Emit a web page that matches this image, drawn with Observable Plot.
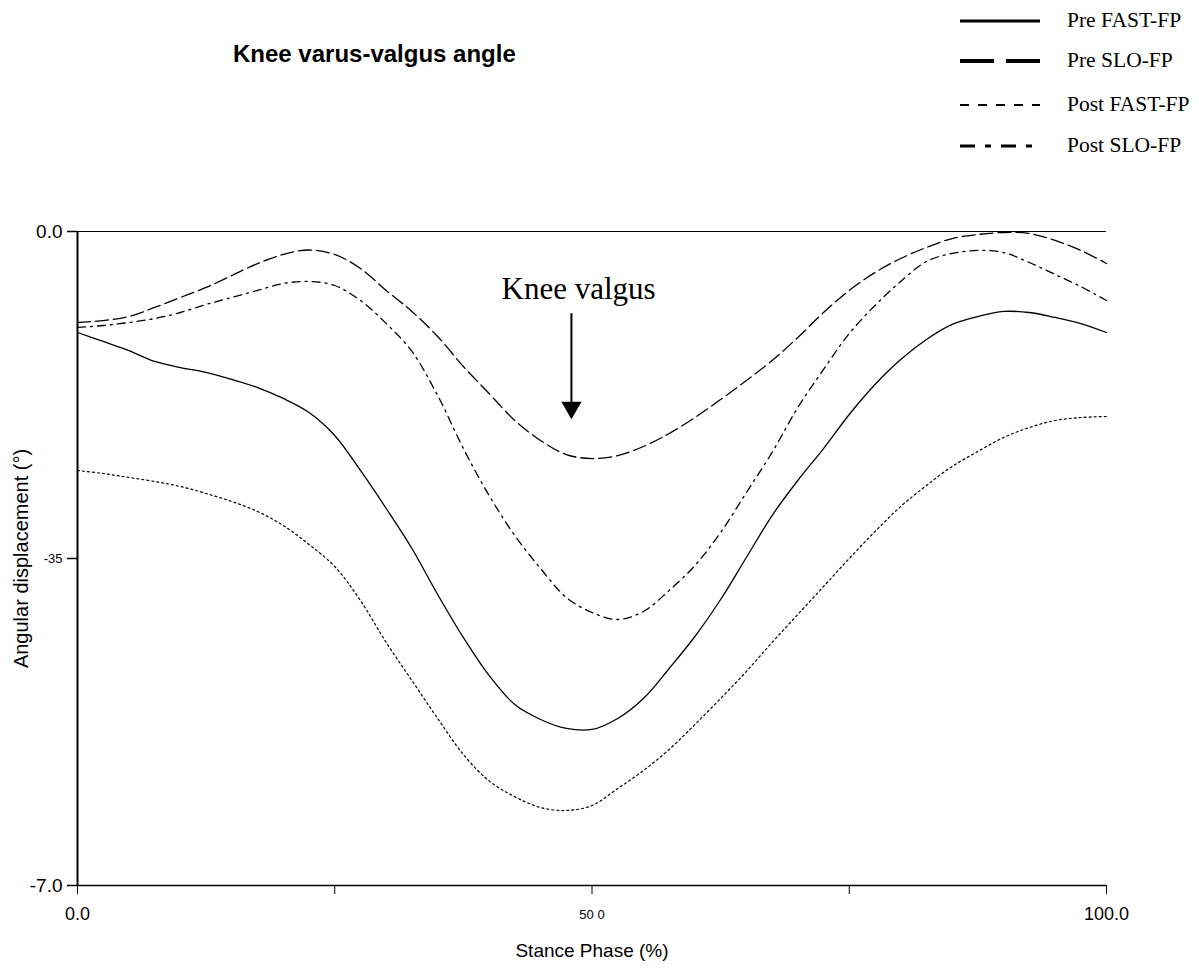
<!DOCTYPE html>
<html>
<head>
<meta charset="utf-8">
<script src="https://cdn.jsdelivr.net/npm/d3@7"></script>
<script src="https://cdn.jsdelivr.net/npm/@observablehq/plot@0.6"></script>
<style>
  body { margin: 0; background: #fff; }
  #wrap { position: relative; width: 1199px; height: 975px; overflow: hidden; }
  #chart { position: absolute; left: 0; top: 0; }
  #title { position: absolute; left: 233px; top: 42px; font: bold 24px "Liberation Sans", Arial, sans-serif; line-height: 1; color: #000; white-space: nowrap; }
  #legend { position: absolute; left: 0; top: 0; }
</style>
</head>
<body>
<div id="wrap">
  <div id="chart"></div>
  <div id="title">Knee varus-valgus angle</div>
  <svg id="legend" width="1199" height="170"></svg>
</div>
<script>
// ---- data (stance phase %, angular displacement) ----
const stance = [0, 2.5, 5, 7.5, 10, 12.5, 15, 17.5, 20, 22.5, 25, 27.5, 30, 32.5, 35, 37.5, 40, 42.5, 45, 47.5, 50,
                52.5, 55, 57.5, 60, 62.5, 65, 67.5, 70, 72.5, 75, 77.5, 80, 82.5, 85, 87.5, 90, 92.5, 95, 97.5, 100];

const preFast = [-1.081, -1.177, -1.274, -1.391, -1.456, -1.509, -1.584, -1.670, -1.787, -1.937, -2.183, -2.558, -2.965, -3.393, -3.885, -4.346, -4.752, -5.063, -5.223, -5.319, -5.330,
                 -5.212, -4.998, -4.677, -4.335, -3.939, -3.489, -3.040, -2.665, -2.323, -1.959, -1.638, -1.370, -1.156, -0.995, -0.910, -0.856, -0.867, -0.920, -0.985, -1.081];

const preSlo = [-0.974, -0.953, -0.910, -0.813, -0.706, -0.599, -0.471, -0.343, -0.246, -0.198, -0.246, -0.396, -0.631, -0.856, -1.124, -1.445, -1.734, -2.023, -2.237, -2.387, -2.430,
                -2.398, -2.301, -2.162, -1.991, -1.798, -1.595, -1.381, -1.135, -0.867, -0.631, -0.439, -0.289, -0.171, -0.075, -0.032, -0.011, -0.021, -0.096, -0.203, -0.342];

const postFast = [-2.558, -2.590, -2.633, -2.676, -2.729, -2.804, -2.890, -2.997, -3.147, -3.350, -3.586, -3.950, -4.399, -4.806, -5.212, -5.598, -5.880, -6.050, -6.165, -6.197, -6.144,
                  -5.962, -5.769, -5.544, -5.277, -4.998, -4.709, -4.399, -4.099, -3.800, -3.500, -3.211, -2.943, -2.719, -2.515, -2.355, -2.205, -2.098, -2.023, -1.991, -1.980];

const postSlo = [-1.027, -1.006, -0.974, -0.931, -0.867, -0.781, -0.706, -0.631, -0.557, -0.535, -0.578, -0.739, -0.985, -1.284, -1.755, -2.323, -2.826, -3.254, -3.607, -3.917, -4.078,
                 -4.153, -4.067, -3.842, -3.575, -3.222, -2.794, -2.365, -1.884, -1.477, -1.092, -0.792, -0.535, -0.321, -0.235, -0.203, -0.225, -0.332, -0.460, -0.589, -0.739];

const seriesNames = ["Pre FAST-FP", "Pre SLO-FP", "Post FAST-FP", "Post SLO-FP"];
const seriesValues = [preFast, preSlo, postFast, postSlo];

const xTickValues = [0, 25, 50, 75, 100];
const xTickLabels = ["0.0", "", "50 0", "", "100.0"];
const yTickValues = [0, -3.5, -7];
const yTickLabels = ["0.0", "-35", "-7.0"];

const annotationText = "Knee valgus";
const annotationX = 48.7;
const arrowX = 48;
const arrowTop = -0.88;
const arrowTip = -1.95;

// ---- styles (kept separate from data) ----
const lineStyle = {
  "Pre FAST-FP":  {dash: null,      width: 1.3, legendDash: null,       legendWidth: 3},
  "Pre SLO-FP":   {dash: "13,5",    width: 1.3, legendDash: "34,12",    legendWidth: 4},
  "Post FAST-FP": {dash: "2,3",     width: 1.2, legendDash: "9,9",      legendWidth: 2.2},
  "Post SLO-FP":  {dash: "8,5,2,5", width: 1.3, legendDash: "15,10,6,10", legendWidth: 3.2}
};

const rows = seriesNames.flatMap((s, i) => stance.map((x, j) => ({series: s, x, y: seriesValues[i][j]})));
const xTicks = xTickValues.map((v, i) => ({v, label: xTickLabels[i], size: v === 50 ? 13 : 18}));
const yTicks = yTickValues.map((v, i) => ({v, label: yTickLabels[i], size: v === -3.5 ? 13 : 19}));

const lineMarks = seriesNames.map(s => Plot.line(rows.filter(r => r.series === s), {
  x: "x", y: "y", curve: "catmull-rom",
  stroke: "#000", strokeWidth: lineStyle[s].width,
  strokeDasharray: lineStyle[s].dash
}));

const chart = Plot.plot({
  width: 1199,
  height: 975,
  marginLeft: 77,
  marginRight: 93,
  marginTop: 231,
  marginBottom: 90,
  x: {domain: [0, 100], axis: null},
  y: {domain: [-7, 0], axis: null},
  style: {background: "#fff", color: "#000", fontFamily: "'Liberation Sans', Arial, sans-serif"},
  marks: [
    Plot.ruleY([0], {x1: 0, x2: 100, stroke: "#000", strokeWidth: 1.2}),
    Plot.ruleY([-7], {x1: 0, x2: 100, stroke: "#000", strokeWidth: 1.5}),
    Plot.ruleX([0], {y1: -7, y2: 0, stroke: "#000", strokeWidth: 2}),
    Plot.axisX({ticks: xTickValues, tickSize: 9, tickFormat: () => "", label: null, stroke: "#000"}),
    Plot.axisY({ticks: yTickValues, tickSize: 10, tickFormat: () => "", label: null, stroke: "#000", strokeWidth: 1.5}),
    Plot.text(xTicks, {x: "v", y: () => -7, text: "label", fontSize: "size", dy: 29, fill: "#000"}),
    Plot.text(yTicks, {x: () => 0, y: "v", text: "label", fontSize: "size", dx: -15, textAnchor: "end", fill: "#000"}),
    ...lineMarks,
    Plot.ruleX([arrowX], {y1: arrowTop, y2: arrowTip, stroke: "#000", strokeWidth: 2}),
    Plot.dot([arrowX], {x: d => d, y: () => arrowTip, symbol: "triangle", r: 7.5, rotate: 180, fill: "#000", stroke: "none", dy: -6}),
    Plot.text([annotationText], {x: () => annotationX, y: () => -0.72, text: d => d, fontSize: 31, lineAnchor: "bottom",
      fontFamily: "'Liberation Serif', 'Times New Roman', serif", fill: "#000"}),
    Plot.text(["Stance Phase (%)"], {x: () => 50, y: () => -7, text: d => d, dy: 65, fontSize: 19, fill: "#000"}),
    Plot.text(["Angular displacement (\u00b0)"], {x: () => 0, y: () => -3.5, text: d => d, dx: -56, rotate: -90, fontSize: 20, fill: "#000"})
  ]
});
document.getElementById("chart").appendChild(chart);

// ---- legend ----
const legendRowsY = [21, 61, 105, 146];
const leg = d3.select("#legend");
seriesNames.forEach((s, i) => {
  const y = legendRowsY[i];
  leg.append("line").attr("x1", 960).attr("x2", 1040).attr("y1", y).attr("y2", y)
    .attr("stroke", "#000").attr("stroke-width", lineStyle[s].legendWidth)
    .attr("stroke-dasharray", lineStyle[s].legendDash);
  leg.append("text").attr("x", 1067).attr("y", y + 6)
    .attr("font-family", "'Liberation Serif', 'Times New Roman', serif")
    .attr("font-size", 21.5).attr("fill", "#000").text(s);
});
</script>
</body>
</html>
